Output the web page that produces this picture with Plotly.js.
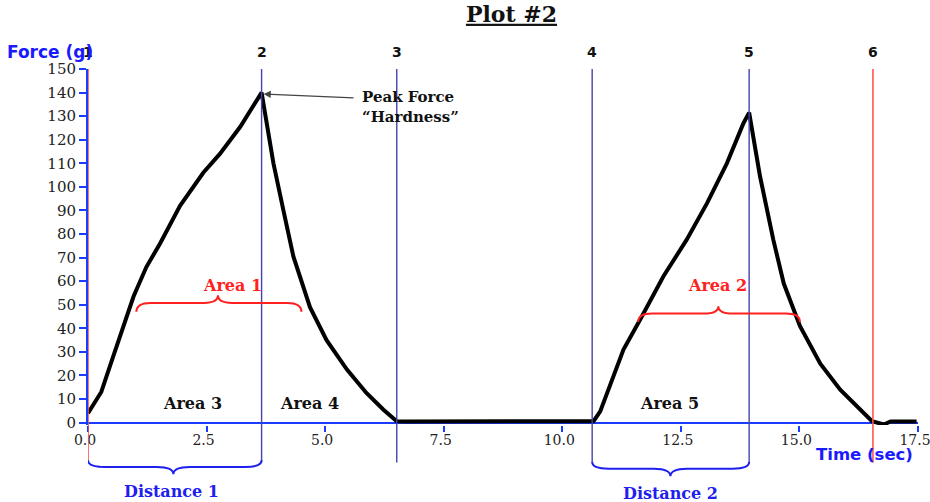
<!DOCTYPE html>
<html>
<head>
<meta charset="utf-8">
<script src="https://cdn.plot.ly/plotly-3.0.1.min.js"></script>
<style>html,body{margin:0;padding:0;background:#fff;}#chart{width:930px;height:502px;}</style>
</head>
<body>
<div id="chart"></div>
<script>
// ---- data ----
var timeSec = [0, 0.28, 0.53, 0.74, 0.96, 1.23, 1.52, 1.94, 2.43, 2.78, 3.21, 3.66, 3.91, 4.12, 4.33, 4.68, 5.03, 5.46, 5.87, 6.23, 6.51, 6.7, 8.0, 9.5, 10.5, 10.66, 10.80, 11.0, 11.29, 11.64, 12.13, 12.62, 13.05, 13.47, 13.82, 13.94, 14.17, 14.45, 14.67, 15.01, 15.44, 15.86, 16.22, 16.53, 16.78, 16.92, 17.47];
var forceG = [4, 13, 28, 41, 53.5, 66, 76, 92, 106, 114, 125.5, 140, 110, 90, 70.5, 49, 35, 22.5, 12.6, 5.5, 0.6, 0.5, 0.5, 0.5, 0.5, 0.6, 4.8, 15.4, 31, 43.6, 62, 77.5, 93, 110, 127, 131.5, 104.4, 77.5, 59, 41, 25, 14, 7, 0.6, -0.8, 0.5, 0.5];
var markerLabels = ['1', '2', '3', '4', '5', '6'];
var markerTimes = [0, 3.66, 6.51, 10.63, 13.94, 16.55];
var markerColors = ['#ff4d4d', '#4444aa', '#4444aa', '#4444aa', '#4444aa', '#ff5555'];
var yTickVals = [0,10,20,30,40,50,60,70,80,90,100,110,120,130,140,150];
var xTickVals = [0, 2.5, 5, 7.5, 10, 12.5, 15, 17.5];
var xTickText = ['0.0','2.5','5.0','7.5','10.0','12.5','15.0','17.5'];
var peakTime = 3.66, peakForce = 140;

var serif = 'DejaVu Serif';
var sans = 'DejaVu Sans';

function brace(x0, x1, xm, yEnd, yArm, yTip, r) {
  return 'M' + x0 + ',' + yEnd + ' Q' + x0 + ',' + yArm + ' ' + (x0 + r) + ',' + yArm +
    ' L' + (xm - r) + ',' + yArm + ' Q' + xm + ',' + yArm + ' ' + xm + ',' + yTip +
    ' Q' + xm + ',' + yArm + ' ' + (xm + r) + ',' + yArm +
    ' L' + (x1 - r) + ',' + yArm + ' Q' + x1 + ',' + yArm + ' ' + x1 + ',' + yEnd;
}

var shapes = [];
markerTimes.forEach(function (t, i) {
  shapes.push({type: 'line', xref: 'x', yref: 'paper', x0: t, x1: t, y0: -0.105, y1: 1.0,
    line: {color: markerColors[i], width: i === 0 || i === 5 ? 1.6 : 1.4}, layer: 'above'});
});
// red braces (areas 1 and 2)
shapes.push({type: 'path', xref: 'x', yref: 'y', path: brace(1.02, 4.50, 2.74, 47, 50.8, 54, 0.3), line: {color: '#ff2020', width: 2}});
shapes.push({type: 'path', xref: 'x', yref: 'y', path: brace(11.6, 15.01, 13.29, 42.7, 46.3, 49.4, 0.3), line: {color: '#ff2020', width: 2}});
// blue braces (distances)
shapes.push({type: 'path', xref: 'x', yref: 'paper', path: brace(0, 3.66, 1.8, -0.0992, -0.1181, -0.1386, 0.35), line: {color: '#2020ee', width: 2}});
shapes.push({type: 'path', xref: 'x', yref: 'paper', path: brace(10.63, 13.94, 12.28, -0.104, -0.1226, -0.1442, 0.35), line: {color: '#2020ee', width: 2}});

var annotations = [];
markerTimes.forEach(function (t, i) {
  annotations.push({x: t, y: 1.048, xref: 'x', yref: 'paper', text: '<b>' + markerLabels[i] + '</b>', showarrow: false,
    font: {family: sans, size: 14, color: '#111'}, xanchor: 'center', yanchor: 'middle'});
});
annotations.push({x: -0.1004, y: 1.048, xref: 'paper', yref: 'paper', text: '<b>Force (g)</b>', showarrow: false,
  font: {family: sans, size: 17, color: '#1a1aff'}, xanchor: 'left', yanchor: 'middle'});
annotations.push({x: 16.37, y: -0.083, xref: 'x', yref: 'paper', text: '<b>Time (sec)</b>', showarrow: false,
  font: {family: sans, size: 16.5, color: '#1a1aff'}, xanchor: 'center', yanchor: 'middle'});
annotations.push({x: peakTime, y: peakForce - 0.6, xref: 'x', yref: 'y', axref: 'x', ayref: 'y', ax: 5.63, ay: 137.7,
  text: '', showarrow: true, arrowhead: 2, arrowsize: 1.2, arrowwidth: 1.2, arrowcolor: '#444', standoff: 2});
annotations.push({x: 5.73, y: 143, xref: 'x', yref: 'y', text: '<b>Peak Force<br>“Hardness”</b>', showarrow: false,
  font: {family: serif, size: 15, color: '#111'}, xanchor: 'left', yanchor: 'top', align: 'left'});
annotations.push({x: 3.05, y: 58.3, xref: 'x', yref: 'y', text: '<b>Area 1</b>', showarrow: false,
  font: {family: serif, size: 16, color: '#ff2020'}, yanchor: 'middle'});
annotations.push({x: 13.28, y: 58.3, xref: 'x', yref: 'y', text: '<b>Area 2</b>', showarrow: false,
  font: {family: serif, size: 16, color: '#ff2020'}, yanchor: 'middle'});
annotations.push({x: 2.21, y: 3.3, xref: 'x', yref: 'y', text: '<b>Area 3</b>', showarrow: false,
  font: {family: serif, size: 16, color: '#111'}, yanchor: 'bottom'});
annotations.push({x: 4.66, y: 3.3, xref: 'x', yref: 'y', text: '<b>Area 4</b>', showarrow: false,
  font: {family: serif, size: 16, color: '#111'}, yanchor: 'bottom'});
annotations.push({x: 12.25, y: 3.3, xref: 'x', yref: 'y', text: '<b>Area 5</b>', showarrow: false,
  font: {family: serif, size: 16, color: '#111'}, yanchor: 'bottom'});
annotations.push({x: 1.77, y: -0.186, xref: 'x', yref: 'paper', text: '<b>Distance 1</b>', showarrow: false,
  font: {family: serif, size: 16, color: '#2020ee'}, yanchor: 'middle'});
annotations.push({x: 12.29, y: -0.192, xref: 'x', yref: 'paper', text: '<b>Distance 2</b>', showarrow: false,
  font: {family: serif, size: 16, color: '#2020ee'}, yanchor: 'middle'});

var trace = {x: timeSec, y: forceG, type: 'scatter', mode: 'lines',
  line: {color: '#000', width: 4, shape: 'linear'}, hoverinfo: 'none'};

var layout = {
  width: 930, height: 502,
  margin: {l: 88, r: 12, t: 69, b: 77},
  paper_bgcolor: '#fff', plot_bgcolor: '#fff',
  showlegend: false,
  title: {text: '<b><u>Plot #2</u></b>', x: 0.55, xanchor: 'center', y: 0.972, yanchor: 'middle',
    font: {family: serif, size: 22, color: '#111'}},
  xaxis: {range: [0, 17.5], tickmode: 'array', tickvals: xTickVals, ticktext: xTickText,
    ticks: 'outside', ticklen: 6, tickwidth: 2, tickcolor: '#1a3cff', ticklabeloverflow: 'allow',
    ticklabelshift: -3, ticklabelstandoff: -4,
    showgrid: false, zeroline: false, showline: false,
    tickfont: {family: serif, size: 14, color: '#222'}},
  yaxis: {range: [-1, 150], tickmode: 'array', tickvals: yTickVals,
    ticks: 'outside', ticklen: 7, tickwidth: 2, tickcolor: '#1a3cff',
    showgrid: false, zeroline: true, zerolinecolor: '#1a3cff', zerolinewidth: 2,
    showline: true, linecolor: '#1a3cff', linewidth: 2,
    tickfont: {family: serif, size: 15, color: '#222'}},
  shapes: shapes,
  annotations: annotations
};

Plotly.newPlot('chart', [trace], layout, {displayModeBar: false, staticPlot: true});
</script>
</body>
</html>
